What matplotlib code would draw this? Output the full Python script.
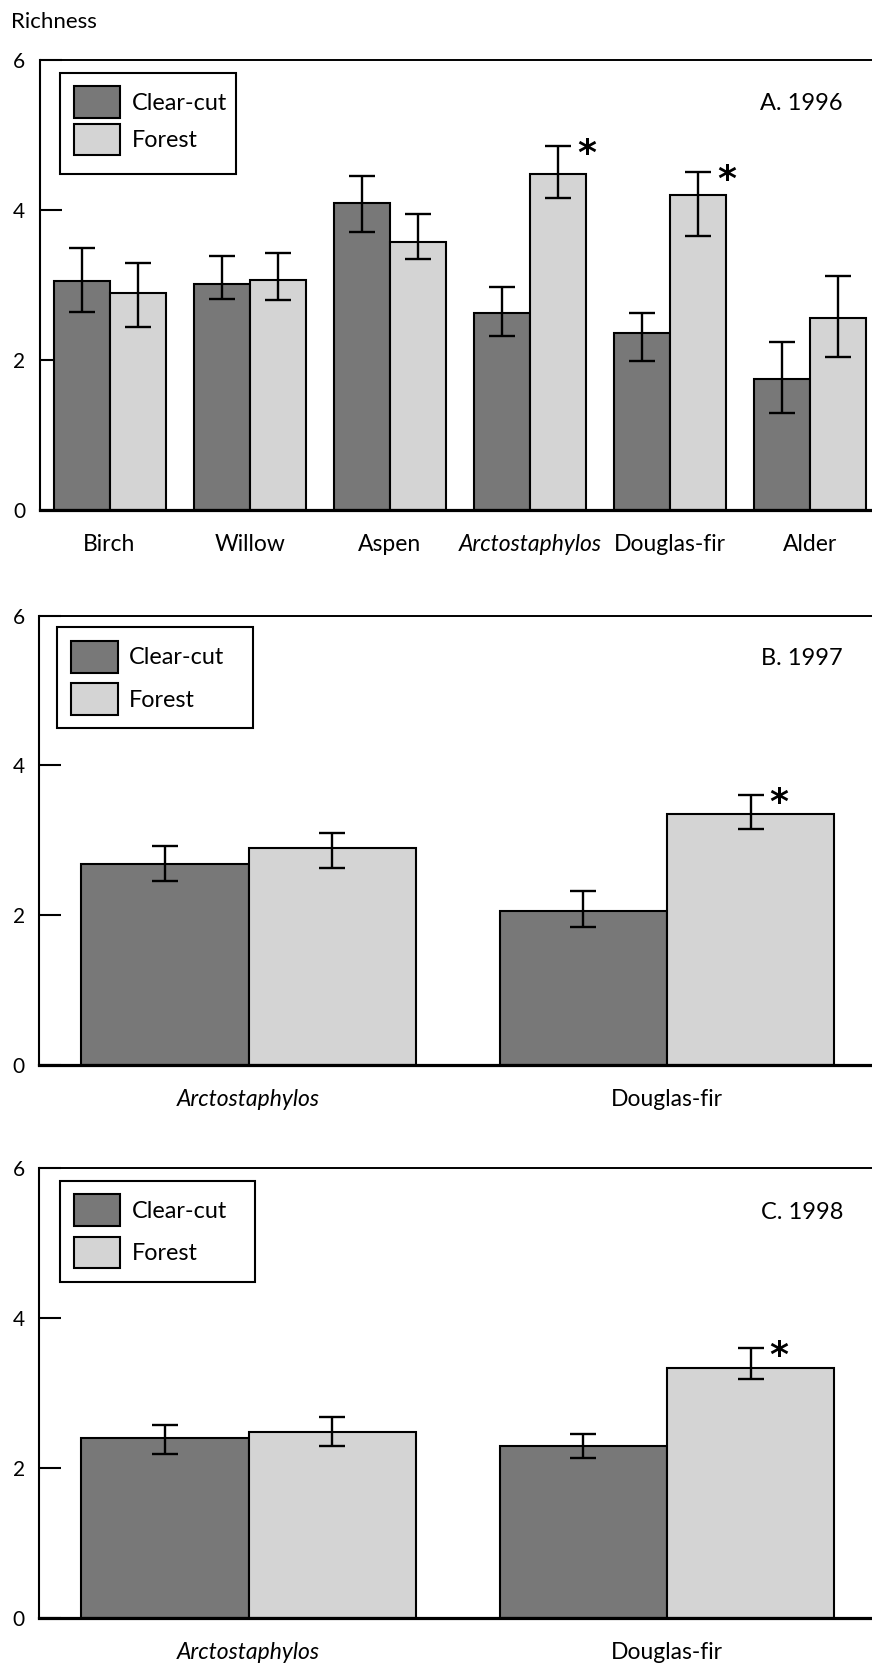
import matplotlib
matplotlib.use("Agg")
import matplotlib.pyplot as plt
from matplotlib.patches import Rectangle
import numpy as np

plt.rcParams['font.family'] = ['Lato', 'DejaVu Sans']

# ---------------- data ----------------
years = ['A. 1996', 'B. 1997', 'C. 1998']

species_1996 = ['Birch', 'Willow', 'Aspen', 'Arctostaphylos', 'Douglas-fir', 'Alder']
cc_1996 = [3.06, 3.01, 4.09, 2.63, 2.36, 1.75]
cc_1996_hi = [3.50, 3.395, 4.46, 2.98, 2.63, 2.24]
cc_1996_lo = [2.64, 2.81, 3.71, 2.315, 1.99, 1.30]
forest_1996 = [2.90, 3.07, 3.58, 4.48, 4.20, 2.56]
forest_1996_hi = [3.29, 3.43, 3.955, 4.85, 4.51, 3.12]
forest_1996_lo = [2.435, 2.80, 3.35, 4.16, 3.65, 2.04]
sig_1996 = [False, False, False, True, True, False]

species_1997 = ['Arctostaphylos', 'Douglas-fir']
cc_1997 = [2.68, 2.05]
cc_1997_hi = [2.92, 2.32]
cc_1997_lo = [2.45, 1.84]
forest_1997 = [2.89, 3.35]
forest_1997_hi = [3.10, 3.605]
forest_1997_lo = [2.63, 3.145]
sig_1997 = [False, True]

species_1998 = ['Arctostaphylos', 'Douglas-fir']
cc_1998 = [2.40, 2.29]
cc_1998_hi = [2.57, 2.46]
cc_1998_lo = [2.19, 2.13]
forest_1998 = [2.485, 3.34]
forest_1998_hi = [2.68, 3.60]
forest_1998_lo = [2.30, 3.19]
sig_1998 = [False, True]

y_ticks = [0, 2, 4, 6]
legend_labels = ['Clear-cut', 'Forest']
italic_names = ['Arctostaphylos']

C_CC = '#787878'
C_F = '#d4d4d4'

# ---------------- layout ----------------
W, H = 872, 1663
fig = plt.figure(figsize=(W / 100, H / 100), dpi=100)


def rect(l, t, r, b):
    return [l / W, 1 - b / H, (r - l) / W, (b - t) / H]


panels = [
    dict(box=(39.5, 60.3, 872, 510.0), xr=5.442,
         leg=(60, 12.4, 236, 113.6), p1=(26.1, 57.8), p2=(63.3, 95.0), pl=74, pr=120,
         sp=species_1996, cc=cc_1996, cch=cc_1996_hi, ccl=cc_1996_lo,
         f=forest_1996, fh=forest_1996_hi, fl=forest_1996_lo, sig=sig_1996,
         title_base=110),
    dict(box=(39.3, 615.5, 872, 1065.0), xr=1.49,
         leg=(57, 11.4, 252.5, 112.9), p1=(25.1, 57.5), p2=(67.1, 99.9), pl=71, pr=118,
         sp=species_1997, cc=cc_1997, cch=cc_1997_hi, ccl=cc_1997_lo,
         f=forest_1997, fh=forest_1997_hi, fl=forest_1997_lo, sig=sig_1997,
         title_base=665.4),
    dict(box=(39.3, 1168.3, 872, 1618.0), xr=1.49,
         leg=(60, 12.7, 255, 113.7), p1=(26.0, 57.7), p2=(69.0, 100.0), pl=74, pr=120,
         sp=species_1998, cc=cc_1998, cch=cc_1998_hi, ccl=cc_1998_lo,
         f=forest_1998, fh=forest_1998_hi, fl=forest_1998_lo, sig=sig_1998,
         title_base=1219),
]

bw = 0.4
for i, p in enumerate(panels):
    l, t, r, b = p['box']
    ax = fig.add_axes(rect(l, t, r, b))
    x = np.arange(len(p['sp']))
    cc = np.array(p['cc']); f = np.array(p['f'])
    ax.bar(x - bw / 2, cc, bw, color=C_CC, edgecolor='black', linewidth=1.5, zorder=2)
    ax.bar(x + bw / 2, f, bw, color=C_F, edgecolor='black', linewidth=1.5, zorder=2)
    ax.errorbar(x - bw / 2, cc, yerr=[cc - np.array(p['ccl']), np.array(p['cch']) - cc],
                fmt='none', ecolor='black', elinewidth=1.7, capsize=9.4, capthick=1.7, zorder=3)
    ax.errorbar(x + bw / 2, f, yerr=[f - np.array(p['fl']), np.array(p['fh']) - f],
                fmt='none', ecolor='black', elinewidth=1.7, capsize=9.4, capthick=1.7, zorder=3)
    for xi, s, top in zip(x, p['sig'], p['fh']):
        if s:
            ax.annotate('*', xy=(xi + bw / 2, top), xytext=(20.5, -5.5), textcoords='offset points',
                        ha='center', va='center', fontsize=26, fontweight='bold',
                        family=['DejaVu Sans'], zorder=4, annotation_clip=False)
    ax.set_xlim(-0.5, p['xr'])
    ax.set_ylim(0, 6)
    ax.set_yticks(y_ticks)
    ax.set_yticklabels([str(v) for v in y_ticks])
    ax.tick_params(axis='y', direction='in', length=15.6, width=1.5, labelsize=15, pad=10.4)
    ax.set_xticks(x)
    ax.set_xticklabels(p['sp'])
    for lab in ax.get_xticklabels():
        if lab.get_text() in italic_names:
            lab.set_style('italic')
    ax.tick_params(axis='x', length=0, labelsize=16.5, pad=17)
    ax.spines['right'].set_visible(False)
    ax.spines['left'].set_linewidth(1.5)
    ax.spines['top'].set_linewidth(1.4)
    ax.spines['bottom'].set_linewidth(2.3)
    ax.spines['left'].set_zorder(5)
    ax.spines['bottom'].set_zorder(5)

    # legend (drawn manually in figure pixel space)
    gl, gt, gr, gb = p['leg']
    fig.patches.append(Rectangle((gl / W, 1 - (t + gb) / H), (gr - gl) / W, (gb - gt) / H,
                                 transform=fig.transFigure, facecolor='white',
                                 edgecolor='black', linewidth=1.5, zorder=10))
    for (pt, pb), col, lab in zip([p['p1'], p['p2']], [C_CC, C_F], legend_labels):
        fig.patches.append(Rectangle((p['pl'] / W, 1 - (t + pb) / H), (p['pr'] - p['pl']) / W,
                                     (pb - pt) / H, transform=fig.transFigure, facecolor=col,
                                     edgecolor='black', linewidth=1.5, zorder=11))
        fig.text((p['pl'] + 57.5) / W, 1 - (t + (pt + pb) / 2 + 1) / H, lab, ha='left',
                 va='center', fontsize=16.8, zorder=12)

    fig.text(843 / W, 1 - p['title_base'] / H, years[i], ha='right', va='baseline', fontsize=17)

fig.text(11 / W, 1 - 28 / H, 'Richness', ha='left', va='baseline', fontsize=16)

fig.savefig('out.png', dpi=100)
